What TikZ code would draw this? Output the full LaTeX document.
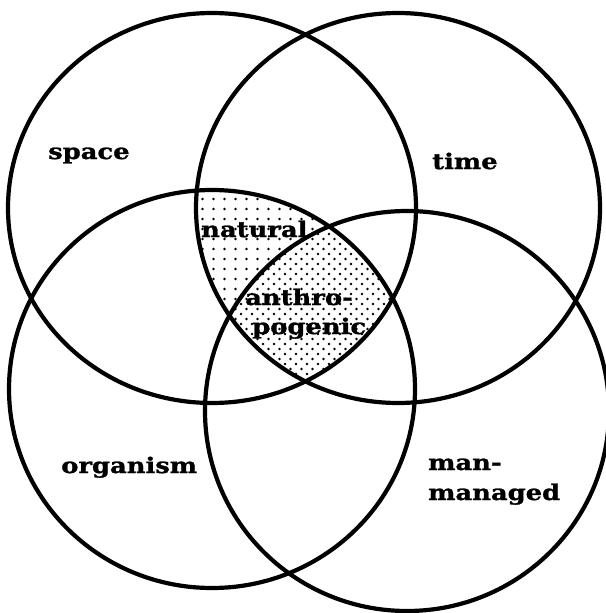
\documentclass[tikz,border=0pt]{standalone}
\usepackage{fontspec}
\newfontfamily\lblfont[FakeStretch=1.2,FakeBold=1.2]{DejaVu Serif}
\begin{document}
\begin{tikzpicture}[x=1pt,y=-1pt,
  circ/.style={line width=4.2pt},
  dot/.style={fill=black},
  lbl/.style={font=\lblfont\bfseries\fontsize{21.5}{25}\selectfont, anchor=base west, inner sep=0pt}]
\useasboundingbox (0,0) rectangle (605,613);
\fill[white] (0,0) rectangle (605,613);
% dotted regions
\begin{scope}
  \clip (212,208) ellipse [x radius=204, y radius=195];
  \clip (398,208) ellipse [x radius=202, y radius=195];
  \clip (212,389) ellipse [x radius=203, y radius=199];
  \foreach \i in {0,...,20} \foreach \j in {0,...,20}
    \fill[dot] (191.5+11*\i, 189+10*\j) circle[radius=1.3];
  \clip (407,411) ellipse [x radius=202, y radius=200];
  \foreach \i in {0,...,20} \foreach \j in {0,...,20}
    \fill[dot] (197+11*\i, 194+10*\j) circle[radius=1.3];
\end{scope}
% circles
\draw[circ] (212,208) ellipse [x radius=204, y radius=195];
\draw[circ] (398,208) ellipse [x radius=202, y radius=195];
\draw[circ] (212,389) ellipse [x radius=203, y radius=199];
\draw[circ] (407,411) ellipse [x radius=202, y radius=200];
% labels
\node[lbl] (space) at (48,159) {space};
\node[lbl] (time) at (432,169) {time};
\node[lbl] (natural) at (201,237) {natural};
\node[lbl] (anthro) at (245,305) {anthro-};
\node[lbl] (pogenic) at (252,334) {pogenic};
\node[lbl] (organism) at (61,473) {organism};
\node[lbl] (man) at (428,470) {man-};
\node[lbl] (managed) at (428,500) {managed};
\end{tikzpicture}
\end{document}
